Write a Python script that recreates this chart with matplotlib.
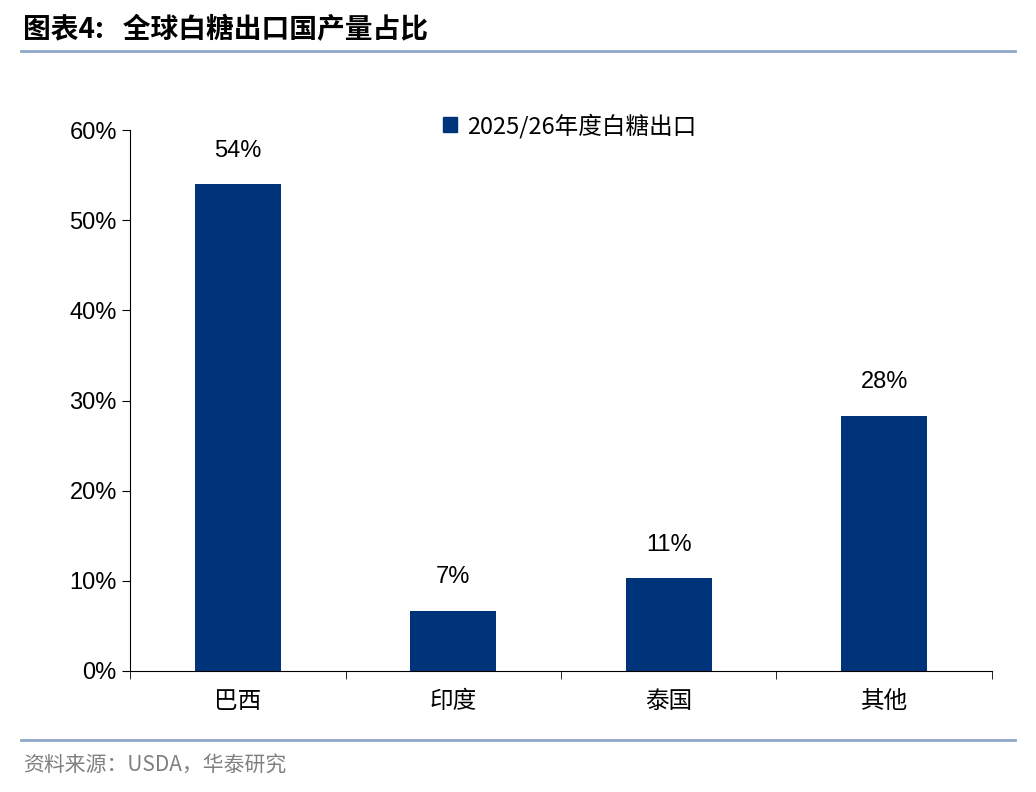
import numpy as np
import matplotlib.pyplot as plt
from matplotlib.patches import Patch
from matplotlib.lines import Line2D

plt.rcParams["font.family"] = ["Noto Sans CJK SC", "DejaVu Sans"]

categories = ["巴西", "印度", "泰国", "其他"]
values = [54.0, 6.7, 10.3, 28.3]
labels = ["54%", "7%", "11%", "28%"]
series_name = "2025/26年度白糖出口"
bar_color = "#00347A"

fig = plt.figure(figsize=(10.36, 7.92), dpi=100)
ax = fig.add_axes([0.1255, 0.1528, 0.832, 0.683])

x = np.arange(len(categories))
ax.bar(x, values, width=0.4, color=bar_color, label=series_name)
for xi, v, t in zip(x, values, labels):
    ax.text(xi, v + 2.5, t, ha="center", va="bottom", fontsize=17, family="Liberation Sans")

ax.set_xlim(-0.5, len(categories) - 0.5)
ax.set_ylim(0, 60)
ax.set_yticks(range(0, 61, 10))
ax.set_yticklabels([f"{v}%" for v in range(0, 61, 10)], fontsize=17, family="Liberation Sans")
ax.set_xticks(x)
ax.set_xticklabels(categories, fontsize=17)
ax.set_xticks(np.arange(-0.5, len(categories)), minor=True)
ax.tick_params(axis="x", which="major", length=0, pad=14)
ax.tick_params(axis="x", which="minor", length=6, direction="out")
ax.tick_params(axis="y", length=6, direction="out")
for s in ["top", "right"]:
    ax.spines[s].set_visible(False)

ax.legend(handles=[Patch(color=bar_color)], labels=[series_name], loc="upper center",
          bbox_to_anchor=(0.51, 1.07), frameon=False, fontsize=17,
          handlelength=0.6, handleheight=0.6, handletextpad=0.4)

fig.text(0.022, 0.962, "图表4:   全球白糖出口国产量占比", fontsize=20, fontweight="bold", va="center")
fig.add_artist(Line2D([0.02, 0.98], [0.935, 0.935], color="#8FA8C8", lw=2))
fig.add_artist(Line2D([0.02, 0.98], [0.066, 0.066], color="#8FA8C8", lw=2))
fig.text(0.022, 0.034, "资料来源：USDA，华泰研究", fontsize=15, color="#808080", va="center")

fig.savefig("out.png")
